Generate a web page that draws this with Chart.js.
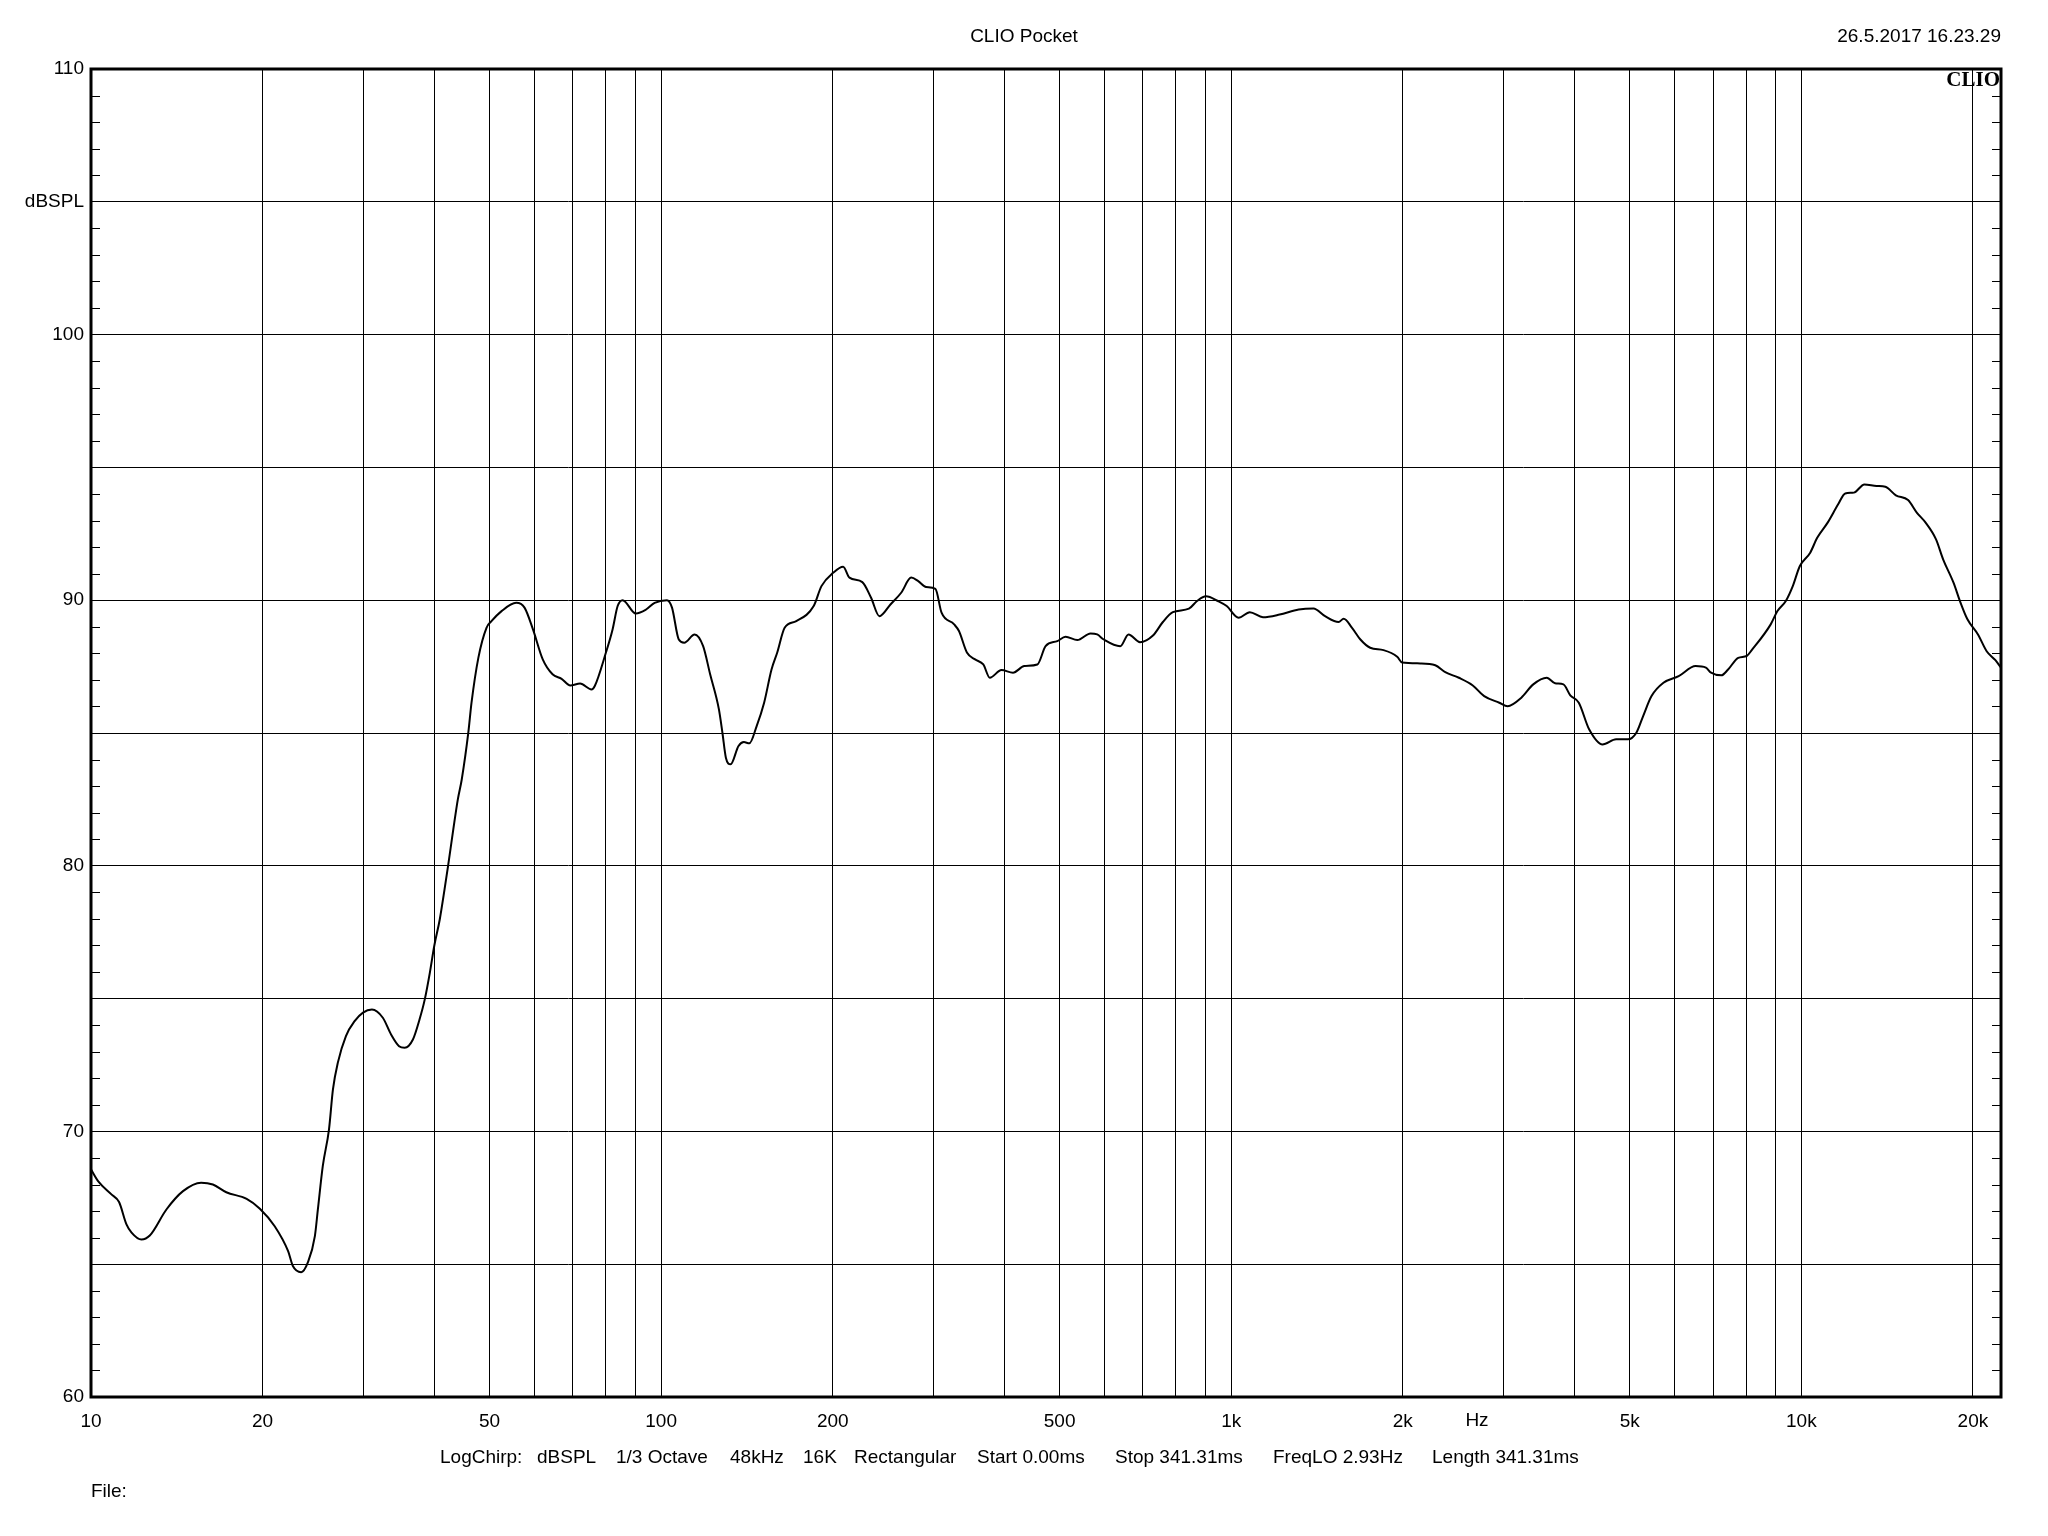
<!DOCTYPE html>
<html>
<head>
<meta charset="utf-8">
<title>CLIO Pocket</title>
<script src="https://cdn.jsdelivr.net/npm/chart.js@4.4.1/dist/chart.umd.min.js"></script>
<style>
  html, body { margin: 0; padding: 0; background: #fff; }
  canvas { display: block; }
</style>
</head>
<body>
<canvas id="chart" width="2048" height="1536"></canvas>
<script>
// frequency response (Hz / dBSPL)
const freqHz = [
  10, 10.29, 10.86, 11.2, 11.54, 11.78, 12.26, 12.68, 13.56, 14.5, 15.6, 16.36, 17.27, 18.75, 19.78,
  21.0, 22.17, 22.6, 23.37, 24.0, 24.7, 25.0, 25.5, 26.15, 26.57, 27.1, 28.0, 29.0, 30.0, 31.1,
  32.5, 33.6, 34.7, 35.5, 36.7, 37.7, 38.5, 39.3, 40.0, 40.9, 41.7, 42.3, 43.2, 44.0, 44.7,
  45.9, 46.5, 47.8, 49.4, 50.4, 52.5, 55.7, 57.6, 59.6, 62.0, 64.5, 66.9, 69.3, 72.1, 75.5,
  76.5, 80.0, 82.2, 83.9, 85.6, 90.3, 94.1, 97.4, 102.4, 104.5, 107.4, 109.8, 114.5, 118.5, 121.9,
  126.3, 128.1, 129.9, 132.4, 136.7, 139.7, 142.8, 147.1, 151.6, 156.2, 159.8, 164.7, 172.6, 185.2, 191.1,
  200.3, 208.6, 214, 225.4, 233.5, 241.5, 252.5, 263.7, 274.6, 282.5, 291.6, 302.8, 310.4, 326.6, 333,
  344.1, 355.4, 367.4, 377.2, 395.4, 414.2, 433.6, 457.1, 472.5, 495.3, 512.2, 537.1, 566.5, 582, 597.7,
  638.8, 660.5, 691.8, 729, 758.8, 790, 843, 871, 903, 948, 982, 1030, 1078, 1137, 1216,
  1313, 1394, 1461, 1543, 1575, 1629, 1685, 1753, 1850, 1955, 1995, 2147, 2280, 2374, 2508,
  2653, 2778, 2953, 3054, 3228, 3387, 3577, 3699, 3826, 3933, 4071, 4244, 4481, 4733, 4965,
  5136, 5277, 5461, 5730, 6093, 6526, 6802, 6945, 7240, 7440, 7750, 8020, 8185, 8837, 9080,
  9393, 9661, 9937, 10366, 10662, 11122, 11604, 11940, 12366, 12900, 13552, 14040, 14650, 15390, 15940,
  16520, 17230, 17730, 18490, 19020, 19560, 20410, 21140, 21900, 22400
];
const splDb = [
  68.57, 68.13, 67.63, 67.34, 66.5, 66.19, 65.93, 66.08, 67.06, 67.75, 68.07, 68.0, 67.71, 67.46, 67.09,
  66.43, 65.49, 64.93, 64.7, 65.06, 66.06, 67.06, 68.69, 70.08, 71.58, 72.59, 73.59, 74.15, 74.47, 74.59,
  74.28, 73.65, 73.21, 73.15, 73.46, 74.22, 74.97, 75.98, 76.98, 77.98, 79.11, 80.0, 81.37, 82.5, 83.25,
  85.01, 86.14, 87.83, 88.96, 89.21, 89.59, 89.9, 89.72, 88.9, 87.77, 87.21, 87.04, 86.79, 86.86, 86.64,
  86.77, 88.02, 88.9, 89.78, 90.0, 89.5, 89.65, 89.9, 90.0, 89.72, 88.52, 88.4, 88.71, 88.27, 87.21,
  85.89, 85.01, 84.07, 83.82, 84.51, 84.66, 84.61, 85.26, 86.14, 87.39, 88.02, 88.96, 89.21, 89.78, 90.53,
  91.03, 91.26, 90.85, 90.68, 90.09, 89.4, 89.84, 90.28, 90.85, 90.72, 90.5, 90.43, 89.53, 89.09, 88.84,
  88.02, 87.77, 87.58, 87.08, 87.37, 87.27, 87.52, 87.58, 88.27, 88.46, 88.62, 88.5, 88.75, 88.71, 88.52,
  88.27, 88.71, 88.42, 88.67, 89.18, 89.55, 89.68, 89.97, 90.15, 89.97, 89.78, 89.34, 89.55, 89.36, 89.46,
  89.65, 89.69, 89.4, 89.18, 89.3, 88.96, 88.52, 88.21, 88.12, 87.87, 87.65, 87.62, 87.55, 87.29, 87.08,
  86.79, 86.39, 86.14, 86.01, 86.33, 86.83, 87.08, 86.87, 86.83, 86.42, 86.14, 85.14, 84.57, 84.76, 84.76,
  85.01, 85.63, 86.39, 86.89, 87.14, 87.52, 87.46, 87.27, 87.17, 87.39, 87.83, 87.9, 88.12, 89.09, 89.59,
  89.97, 90.53, 91.28, 91.79, 92.35, 92.92, 93.61, 94.02, 94.05, 94.36, 94.3, 94.27, 93.95, 93.77, 93.3,
  92.92, 92.29, 91.54, 90.66, 89.91, 89.28, 88.71, 88.08, 87.74, 87.46
];

// axis ticks
const freqGrid = [10, 20, 30, 40, 50, 60, 70, 80, 90, 100, 200, 300, 400, 500, 600, 700, 800, 900,
  1000, 2000, 3000, 4000, 5000, 6000, 7000, 8000, 9000, 10000, 20000];
const freqLabelValues = [10, 20, 50, 100, 200, 500, 1000, 2000, 5000, 10000, 20000];
const freqLabelTexts = ['10', '20', '50', '100', '200', '500', '1k', '2k', '5k', '10k', '20k'];
const dbLabelValues = [60, 70, 80, 90, 100, 105, 110];
const dbLabelTexts = ['60', '70', '80', '90', '100', 'dBSPL', '110'];

const titleText = 'CLIO Pocket';
const dateText = '26.5.2017 16.23.29';
const unitText = 'Hz';
const fileText = 'File:';
const infoTexts = ['LogChirp:', 'dBSPL', '1/3 Octave', '48kHz', '16K', 'Rectangular',
  'Start 0.00ms', 'Stop 341.31ms', 'FreqLO 2.93Hz', 'Length 341.31ms'];
const infoX = [440, 537, 616, 730, 803, 854, 977, 1115, 1273, 1432];

const FONT = '"Liberation Sans", Arial, sans-serif';
Chart.defaults.font.family = FONT;
Chart.defaults.font.size = 19;
Chart.defaults.color = '#000';

const frame = {
    id: 'clioFrame',
    afterDraw(chart) {
        const {ctx, chartArea: a, scales} = chart;
        const y = scales.y;
        ctx.save();

        // minor dB ticks on both sides
        ctx.strokeStyle = '#000';
        ctx.lineWidth = 1;
        ctx.beginPath();
        for (let v = 61; v < 110; v++) {
            if (v % 5 === 0) continue;
            const py = Math.round(y.getPixelForValue(v)) + 0.5;
            ctx.moveTo(a.left, py);
            ctx.lineTo(a.left + 9, py);
            ctx.moveTo(a.right - 9, py);
            ctx.lineTo(a.right, py);
        }
        ctx.stroke();

        // thick frame
        ctx.lineWidth = 3;
        ctx.strokeRect(a.left, a.top, a.right - a.left, a.bottom - a.top);

        // texts
        ctx.fillStyle = '#000';
        ctx.font = '19px ' + FONT;
        ctx.textBaseline = 'middle';
        ctx.textAlign = 'center';
        ctx.fillText(titleText, chart.width / 2, 37);
        ctx.fillText(unitText, 1477, 1421);
        ctx.textAlign = 'right';
        ctx.fillText(dateText, a.right, 37);
        ctx.textAlign = 'left';
        infoTexts.forEach((t, i) => ctx.fillText(t, infoX[i], 1458));
        ctx.fillText(fileText, a.left, 1492);

        ctx.font = 'bold 21px "Liberation Serif", "Times New Roman", serif';
        ctx.textAlign = 'right';
        ctx.textBaseline = 'alphabetic';
        ctx.fillText('CLIO', a.right - 1, 86);
        ctx.restore();
    }
};

new Chart(document.getElementById('chart'), {
    type: 'line',
    data: {
        datasets: [{
            data: freqHz.map((f, i) => ({x: f, y: splDb[i]})),
            borderColor: '#000',
            borderWidth: 2,
            pointRadius: 0,
            cubicInterpolationMode: 'monotone',
            fill: false,
        }]
    },
    options: {
        responsive: false,
        animation: false,
        devicePixelRatio: 1,
        layout: {padding: {top: 69, right: 47, left: 0, bottom: 0}},
        plugins: {legend: {display: false}, tooltip: {enabled: false}},
        scales: {
            x: {
                type: 'logarithmic',
                min: 10,
                max: 22400,
                afterBuildTicks(scale) {
                    scale.ticks = freqGrid.map(v => ({value: v}));
                },
                afterFit(scale) {
                    scale.height = 139;
                },
                ticks: {
                    autoSkip: false,
                    maxRotation: 0,
                    padding: 13,
                    callback(v) {
                        const i = freqLabelValues.indexOf(v);
                        return i < 0 ? '' : freqLabelTexts[i];
                    }
                },
                grid: {color: '#000', lineWidth: 1, drawTicks: false},
                border: {display: false},
            },
            y: {
                type: 'linear',
                min: 60,
                max: 110,
                afterFit(scale) {
                    scale.width = 91;
                },
                ticks: {
                    stepSize: 5,
                    padding: 7,
                    callback(v) {
                        const i = dbLabelValues.indexOf(v);
                        return i < 0 ? '' : dbLabelTexts[i];
                    }
                },
                grid: {color: '#000', lineWidth: 1, drawTicks: false},
                border: {display: false},
            }
        }
    },
    plugins: [frame]
});
</script>
</body>
</html>
